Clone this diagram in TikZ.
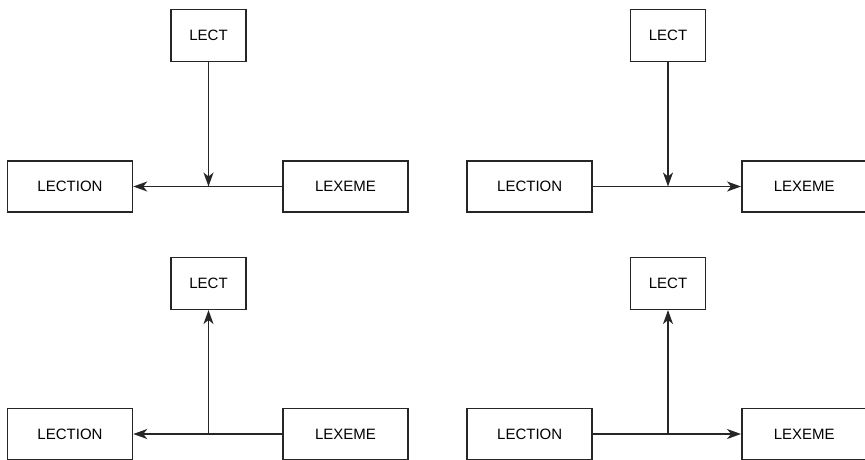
\documentclass[tikz,border=0pt]{standalone}
\usepackage{fontspec}
\setmainfont{Liberation Sans}
\usetikzlibrary{arrows.meta}
\begin{document}
\begin{tikzpicture}[x=1pt,y=-1pt,
  box/.style={draw=black!85,line width=1.5pt,rectangle,inner sep=0pt,font=\fontsize{15}{17}\selectfont,text=black},
  lectbox/.style={box,minimum width=75pt,minimum height=52pt},
  widebox/.style={box,minimum width=125pt,minimum height=51pt},
  conn/.style={draw=black!85,line width=1.5pt},
  tip/.style={-{Stealth[length=14pt,width=10pt,inset=4pt]}}]
\useasboundingbox (0,0) rectangle (865,459);
% panel 1 (top left)
\node[lectbox] (t1) at (208.5,35.5) {LECT};
\node[widebox] (a1) at (70,186.5) {LECTION};
\node[widebox] (b1) at (345.5,186.5) {LEXEME};
\coordinate (j1) at (208.5,186.5);
\draw[conn,tip] (b1.west) -- (a1.east);
\draw[conn,tip] (t1.south) -- (j1);
% panel 2 (top right)
\node[lectbox] (t2) at (668,35.5) {LECT};
\node[widebox] (a2) at (529.7,186.5) {LECTION};
\node[widebox] (b2) at (804.3,186.5) {LEXEME};
\coordinate (j2) at (668,186.5);
\draw[conn,tip] (a2.east) -- (b2.west);
\draw[conn,tip] (t2.south) -- (j2);
% panel 3 (bottom left)
\node[lectbox] (t3) at (208.5,283.3) {LECT};
\node[widebox] (a3) at (70,434) {LECTION};
\node[widebox] (b3) at (345.5,434) {LEXEME};
\coordinate (j3) at (208.5,434);
\draw[conn,tip] (b3.west) -- (a3.east);
\draw[conn,tip] (j3) -- (t3.south);
% panel 4 (bottom right)
\node[lectbox] (t4) at (668,283.3) {LECT};
\node[widebox] (a4) at (529.7,434) {LECTION};
\node[widebox] (b4) at (804.3,434) {LEXEME};
\coordinate (j4) at (668,434);
\draw[conn,tip] (a4.east) -- (b4.west);
\draw[conn,tip] (j4) -- (t4.south);
\end{tikzpicture}
\end{document}
